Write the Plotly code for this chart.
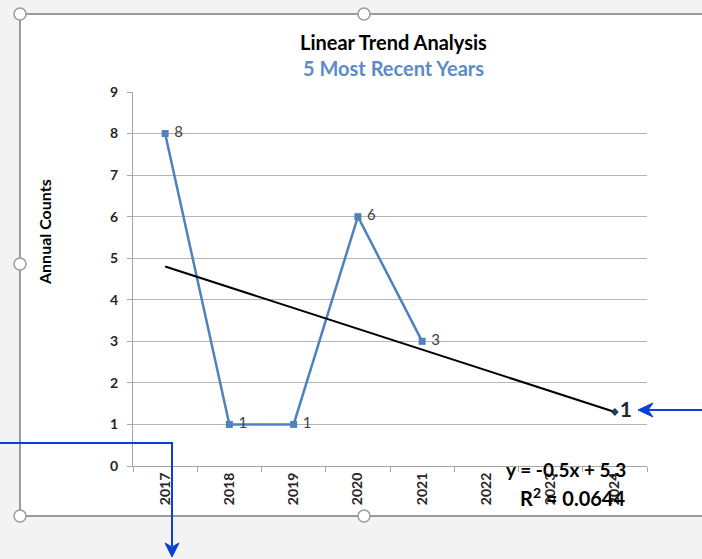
import numpy as np
import plotly.graph_objects as go

# ---- data ----
categories = ["2017", "2018", "2019", "2020", "2021", "2022", "2023", "2024"]
years = ["2017", "2018", "2019", "2020", "2021"]
counts = [8, 1, 1, 6, 3]
y_ticks = [0, 1, 2, 3, 4, 5, 6, 7, 8, 9]

# linear trend over the 5 years (x = 1..5), projected to 2024 (x = 8)
xi = np.arange(1, len(counts) + 1)
slope, intercept = np.polyfit(xi, counts, 1)
pred = slope * xi + intercept
r2 = 1 - np.sum((np.array(counts) - pred) ** 2) / np.sum((np.array(counts) - np.mean(counts)) ** 2)
trend_x = ["2017", "2024"]
trend_y = [slope * 1 + intercept, slope * 8 + intercept]

W, H = 702, 559
L, R, T, B = 133, 55, 92, 93
PW, PH = W - L - R, H - T - B


def px(x):
    return (x - L) / PW


def py(y):
    return (H - B - y) / PH


FONT = "Lato"
BLUE = "#4F81BD"
ARROW = "#0d3fd4"

fig = go.Figure()

fig.add_trace(go.Scatter(
    x=years, y=counts, mode="lines+markers+text",
    line=dict(color=BLUE, width=2.5),
    marker=dict(symbol="square", size=7, color=BLUE),
    text=[f" {v}" for v in counts], textposition="middle right",
    textfont=dict(family=FONT, size=15, color="#404040"),
    cliponaxis=False, showlegend=False,
))

fig.add_trace(go.Scatter(
    x=trend_x, y=trend_y, mode="lines",
    line=dict(color="black", width=2), showlegend=False,
))

fig.add_trace(go.Scatter(
    x=[trend_x[-1]], y=[trend_y[-1]], mode="markers+text",
    marker=dict(symbol="diamond", size=6, color="#1f3864"),
    text=[f"<b>{round(trend_y[-1]):d}</b>"], textposition="middle right",
    textfont=dict(family=FONT, size=21, color="#262626"),
    cliponaxis=False, showlegend=False,
))

shapes = []
# chart frame (white area)
shapes.append(dict(type="rect", xref="paper", yref="paper",
                   x0=px(20), x1=px(720), y0=py(516), y1=py(14),
                   fillcolor="white", line=dict(width=0), layer="below"))
for (xa, ya, xb, yb) in [(20, 14, 720, 14), (20, 14, 20, 516), (20, 516, 720, 516)]:
    shapes.append(dict(type="line", xref="paper", yref="paper",
                       x0=px(xa), y0=py(ya), x1=px(xb), y1=py(yb),
                       line=dict(color="#9b9b9b", width=2), layer="above"))
# handles
for (cx, cy) in [(20, 14), (364, 14), (20, 264), (20, 516), (364, 516)]:
    r = 6
    shapes.append(dict(type="circle", xref="paper", yref="paper",
                       x0=px(cx - r), x1=px(cx + r), y0=py(cy + r), y1=py(cy - r),
                       fillcolor="white", line=dict(color="#9b9b9b", width=1.5), layer="above"))
# blue arrows
shapes.append(dict(type="path", xref="paper", yref="paper",
                   path=f"M {px(-2)},{py(443)} L {px(172)},{py(443)} L {px(172)},{py(546)}",
                   line=dict(color=ARROW, width=2), layer="above"))
shapes.append(dict(type="path", xref="paper", yref="paper",
                   path=f"M {px(172)},{py(557)} L {px(165)},{py(543)} L {px(172)},{py(547)} L {px(179)},{py(543)} Z",
                   fillcolor=ARROW, line=dict(color=ARROW, width=1), layer="above"))
shapes.append(dict(type="line", xref="paper", yref="paper",
                   x0=px(704), y0=py(410), x1=px(648), y1=py(410),
                   line=dict(color=ARROW, width=2), layer="above"))
shapes.append(dict(type="path", xref="paper", yref="paper",
                   path=f"M {px(638)},{py(410)} L {px(653)},{py(403)} L {px(648)},{py(410)} L {px(653)},{py(417)} Z",
                   fillcolor=ARROW, line=dict(color=ARROW, width=1), layer="above"))

annotations = [
    dict(text="<b>Linear Trend Analysis</b>", x=px(393), y=py(42), xref="paper", yref="paper",
         showarrow=False, font=dict(family=FONT, size=20, color="black"), xanchor="center", yanchor="middle"),
    dict(text="<b>5 Most Recent Years</b>", x=px(393), y=py(68), xref="paper", yref="paper",
         showarrow=False, font=dict(family=FONT, size=20, color="#5b8bcb"), xanchor="center", yanchor="middle"),
    dict(text="<b>Annual Counts</b>", x=px(44), y=py(232), xref="paper", yref="paper", textangle=-90,
         showarrow=False, font=dict(family=FONT, size=16, color="black"), xanchor="center", yanchor="middle"),
    dict(text=f"<b>y = {slope:.1f}x + {intercept:.1f}</b>", x=px(566), y=py(469), xref="paper", yref="paper",
         showarrow=False, font=dict(family=FONT, size=19, color="black"), xanchor="center", yanchor="middle"),
    dict(text=f"<b>R<sup>2</sup> = {r2:.4f}</b>", x=px(572), y=py(497), xref="paper", yref="paper",
         showarrow=False, font=dict(family=FONT, size=20, color="black"), xanchor="center", yanchor="middle"),
]

fig.update_layout(
    width=W, height=H,
    margin=dict(l=L, r=R, t=T, b=B, autoexpand=False),
    paper_bgcolor="#f3f3f3", plot_bgcolor="rgba(0,0,0,0)",
    shapes=shapes, annotations=annotations, showlegend=False,
    xaxis=dict(type="category", categoryorder="array", categoryarray=categories,
               range=[-0.5, len(categories) - 0.5], tickson="boundaries",
               ticks="outside", ticklen=5, tickcolor="#a6a6a6", tickangle=-90,
               showline=True, linecolor="#a6a6a6", linewidth=1.3, showgrid=False,
               tickvals=categories, ticktext=[f"<b>{c}</b>" for c in categories],
               tickfont=dict(family=FONT, size=14, color="#262626"), automargin=False,
               zeroline=False),
    yaxis=dict(range=[0, 9], tickvals=y_ticks, ticktext=[f"<b>{v}</b>" for v in y_ticks],
               ticks="outside", ticklen=5,
               tickcolor="#a6a6a6", showline=True, linecolor="#a6a6a6", linewidth=1.3,
               showgrid=True, gridcolor="#b5b5b5", gridwidth=1.3, zeroline=False,
               tickfont=dict(family=FONT, size=14, color="#262626"), automargin=False,
               ticklabelstandoff=6),
)

fig.write_html("out.html", config={"displayModeBar": False},
               post_script="document.body.style.margin='0';document.body.style.overflow='hidden';")
